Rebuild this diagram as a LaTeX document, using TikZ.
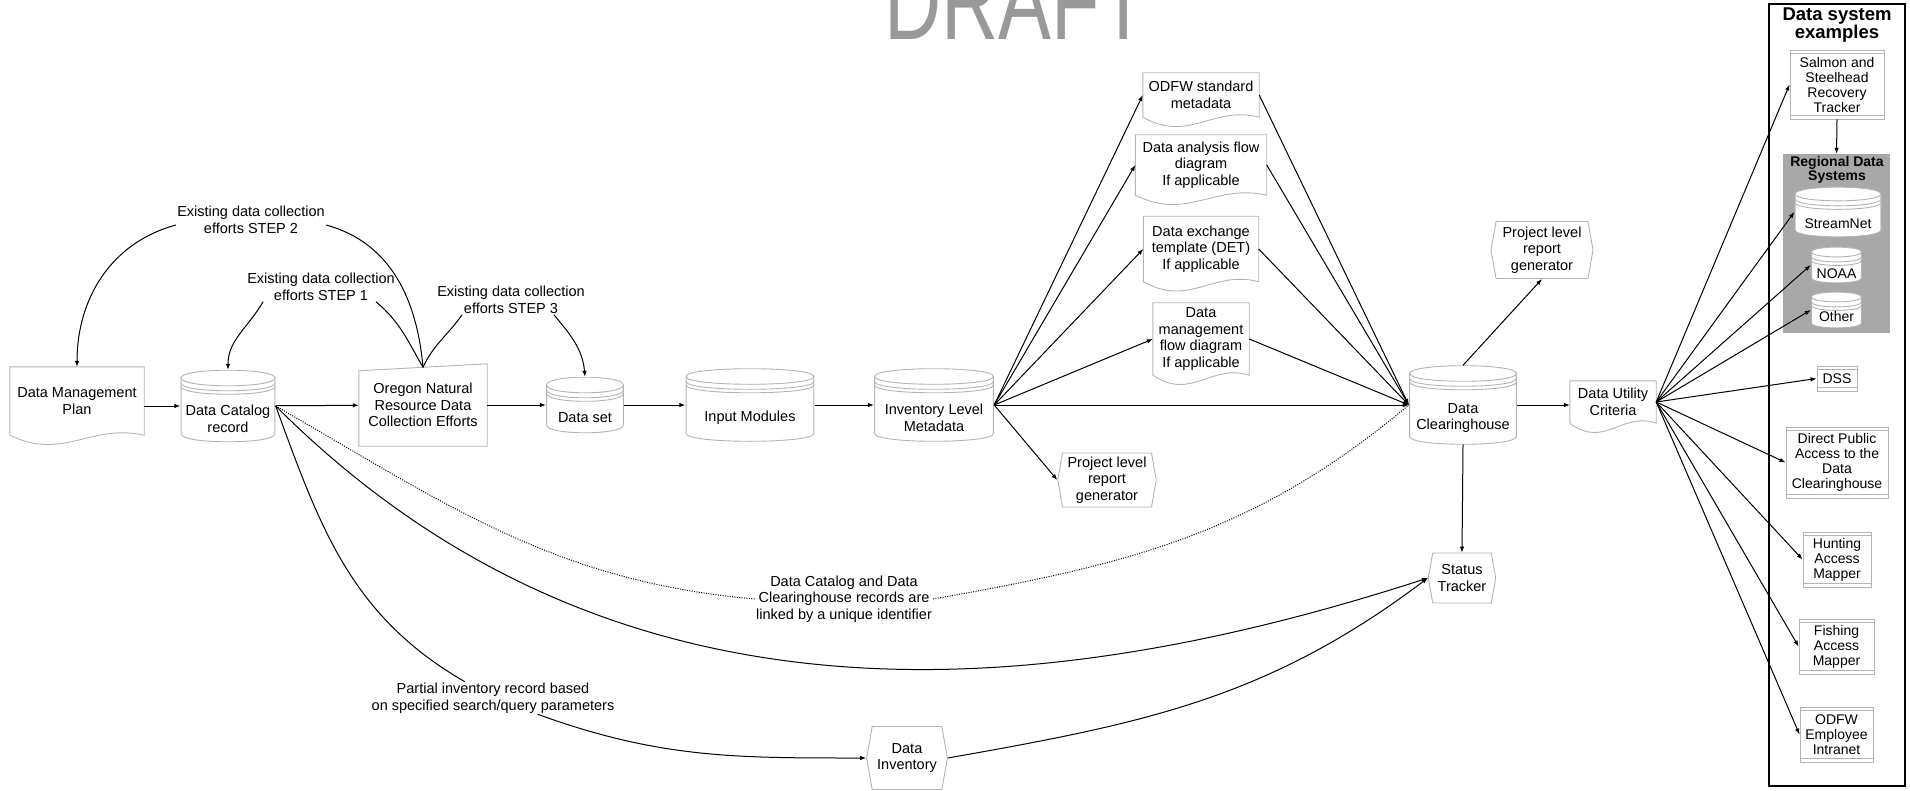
\documentclass[tikz,border=0pt]{standalone}
\usepackage{fontspec}
\setmainfont{Liberation Sans}
\usepackage{tikz}
\usetikzlibrary{arrows.meta, positioning, calc, shapes.symbols}

\definecolor{shapegray}{RGB}{180,180,180}
\definecolor{panelgray}{RGB}{168,168,168}
\definecolor{draftgray}{RGB}{153,153,153}

\newcommand{\panelfont}{\fontsize{14}{15}\selectfont}
\newcommand{\capgap}[1][36]{\rule{0pt}{#1pt}}

% cylinder with a few rings under the lid
\newcommand{\storeoutline}[1]{%
  \coordinate (lid-w) at ([xshift=.6pt,yshift=-#1pt]path picture bounding box.north west);
  \coordinate (lid-e) at ([xshift=-.6pt,yshift=-#1pt]path picture bounding box.north east);
  \coordinate (base-w) at ([xshift=.6pt,yshift=#1pt]path picture bounding box.south west);
  \coordinate (base-e) at ([xshift=-.6pt,yshift=#1pt]path picture bounding box.south east);
  \filldraw[draw=shapegray, fill=white, line width=.9pt]
    (lid-w) .. controls +(0pt,1.3*#1pt) and +(0pt,1.3*#1pt) .. (lid-e)
    -- (base-e) .. controls +(0pt,-1.3*#1pt) and +(0pt,-1.3*#1pt) .. (base-w) -- cycle;
  \draw[shapegray, line width=.9pt] (lid-w) .. controls +(0pt,-1.3*#1pt) and +(0pt,-1.3*#1pt) .. (lid-e);
  \foreach \ring in {5pt,8.5pt}
    \draw[shapegray, line width=.9pt] ([yshift=-\ring]lid-w) .. controls +(0pt,-1.3*#1pt) and +(0pt,-1.3*#1pt) .. ([yshift=-\ring]lid-e);
}

% two rules inside the top and bottom edge
\newcommand{\ruledoutline}{%
  \draw[shapegray, line width=.9pt]
    ([yshift=-3.5pt]path picture bounding box.north west) -- ([yshift=-3.5pt]path picture bounding box.north east)
    ([yshift=3.5pt]path picture bounding box.south west) -- ([yshift=3.5pt]path picture bounding box.south east);
}

\tikzset{
  store/.style={
    rectangle, inner sep=1pt, align=center,
    path picture={\storeoutline{#1}}
  },
  store/.default=8,
  sheet/.style={
    rectangle, fill=white, inner sep=2pt, align=center
  },
  manual/.style={
    rectangle, fill=white, inner sep=2pt, align=center
  },
  display/.style={
    signal, signal to=east and west, signal pointer angle=160,
    draw=shapegray, line width=.9pt, fill=white, inner xsep=5pt, inner ysep=2pt, align=center
  },
  ruled/.style={
    rectangle, draw=shapegray, line width=.9pt, fill=white, inner sep=2pt, align=center,
    font=\panelfont, path picture={\ruledoutline}
  },
  note/.style={
    inner sep=1pt, align=center
  }
}

\begin{document}
\begin{tikzpicture}[
  x=1pt, y=-1pt,
  font=\fontsize{14.5}{16.5}\selectfont,
  arrow/.style={-{Latex[length=6pt, width=4.5pt]}, line width=1pt},
  plain/.style={line width=1pt},
  link/.style={line width=1pt, dash pattern=on 1pt off 1.4pt},
  sheetline/.style={draw=shapegray, line width=.9pt}
]
\useasboundingbox (0,0) rectangle (1910,791);

% watermark
\node[font=\fontsize{110}{110}\selectfont, text=draftgray, xscale=.72, anchor=base, inner sep=0pt] (draft) at (1016,40) {DRAFT};

% main row
\node[sheet, minimum width=134pt, minimum height=68pt] (plan) at (77,401) {Data Management\\Plan};
\node[store, minimum width=95pt, minimum height=72pt] (catalog) at (228,406) {\capgap Data Catalog\\record};
\node[manual, minimum width=128pt, minimum height=82pt] (oregon) at (423,405) {Oregon Natural\\Resource Data\\Collection Efforts};
\node[store, minimum width=78pt, minimum height=56pt] (dataset) at (585,405) {\capgap Data set};
\node[store, minimum width=129pt, minimum height=73pt] (modules) at (750,405) {\capgap Input Modules};
\node[store, minimum width=120pt, minimum height=73pt] (inventory) at (934,405) {\capgap Inventory Level\\Metadata};

% products of the inventory metadata
\node[sheet, minimum width=116pt, minimum height=44pt] (standard) at (1201,95) {ODFW standard\\metadata};
\node[sheet, minimum width=131pt, minimum height=60pt] (analysis) at (1201,165) {Data analysis flow\\diagram\\If applicable};
\node[sheet, minimum width=115pt, minimum height=65pt] (exchange) at (1201,249) {Data exchange\\template (DET)\\If applicable};
\node[sheet, minimum width=96pt, minimum height=72pt] (mgmtflow) at (1201,339) {Data\\management\\flow diagram\\If applicable};
\node[display, minimum width=96pt, minimum height=54pt] (localreport) at (1107,480) {Project level\\report\\generator};

% clearinghouse and its outputs
\node[store, minimum width=108pt, minimum height=79pt] (clearing) at (1463,405) {\capgap Data\\Clearinghouse};
\node[display, minimum width=102pt, minimum height=57pt] (report) at (1542,250) {Project level\\report\\generator};
\node[display, minimum width=62pt, minimum height=50pt] (status) at (1462,578) {Status\\Tracker};
\node[sheet, minimum width=86pt, minimum height=42pt] (utility) at (1613,402) {Data Utility\\Criteria};
\node[display, minimum width=80pt, minimum height=63pt] (datainv) at (907,758) {Data\\Inventory};

% edge labels
\node[note] (step2) at (251,220) {Existing data collection\\efforts STEP 2};
\node[note] (step1) at (321,287) {Existing data collection\\efforts STEP 1};
\node[note] (step3) at (511,300) {Existing data collection\\efforts STEP 3};
\node[note] (linked) at (844,599) {Data Catalog and Data\\Clearinghouse records are\\linked by a unique identifier};
\node[note] (partial) at (493,698) {Partial inventory record based\\on specified search/query parameters};

% data system examples
\node[draw, line width=1.4pt, minimum width=136pt, minimum height=782pt] (examples) at (1837,395) {};
\node[font=\fontsize{18.5}{17}\selectfont\bfseries, align=center, inner sep=0pt] (examplestitle) at (1837,25) {Data system\\examples};
\node[ruled, minimum width=94pt, minimum height=69pt] (salmon) at (1837,84.5) {Salmon and\\Steelhead\\Recovery\\Tracker};
\node[fill=panelgray, minimum width=107pt, minimum height=179pt] (regional) at (1836.5,243.5) {};
\node[font=\fontsize{14}{14}\selectfont\bfseries, align=center, inner sep=0pt] (regionaltitle) at (1837,170) {Regional Data\\Systems};
\node[store=7, minimum width=87pt, minimum height=50pt, font=\panelfont] (streamnet) at (1838,212) {\capgap[34]StreamNet};
\node[store=5, minimum width=51pt, minimum height=36pt, font=\panelfont] (noaa) at (1836.5,265) {\capgap[27]NOAA};
\node[store=5, minimum width=51pt, minimum height=36pt, font=\panelfont] (other) at (1836.5,310) {\capgap[23]Other};
\node[ruled, minimum width=40pt, minimum height=25pt] (dss) at (1837,378.5) {DSS};
\node[ruled, minimum width=102pt, minimum height=71pt] (public) at (1837,462.5) {Direct Public\\Access to the\\Data\\Clearinghouse};
\node[ruled, minimum width=68pt, minimum height=55pt] (hunting) at (1837,559.5) {Hunting\\Access\\Mapper};
\node[ruled, minimum width=75pt, minimum height=55pt] (fishing) at (1836.5,646.5) {Fishing\\Access\\Mapper};
\node[ruled, minimum width=73pt, minimum height=55pt] (intranet) at (1836.5,734.5) {ODFW\\Employee\\Intranet};

% page outlines with the wavy foot
\foreach \sheet in {plan,standard,analysis,exchange,mgmtflow,utility}
  \draw[sheetline] (\sheet.south west) -- (\sheet.north west) -- (\sheet.north east) -- (\sheet.south east)
    .. controls ($(\sheet.south east)!.4!(\sheet.south west)+(0pt,12pt)$) and ($(\sheet.south west)!.4!(\sheet.south east)+(0pt,-26pt)$) .. (\sheet.south west);
\draw[sheetline] (oregon.south west) -- ([yshift=-7pt]oregon.north west) -- (oregon.north east) -- (oregon.south east) -- cycle;

% main row
\draw[arrow] (plan.east |- catalog.west) -- (catalog.west);
\draw[arrow] (catalog) -- (oregon);
\draw[arrow] (oregon) -- (dataset);
\draw[arrow] (dataset) -- (modules);
\draw[arrow] (modules) -- (inventory);

% existing data collection loops
\draw[plain] ([yshift=-3.5pt]oregon.north) to[out=95, in=-15] ([yshift=-5pt]step2.east);
\draw[arrow] ([yshift=-5pt]step2.west) to[out=195, in=90] (plan.north);
\draw[plain] ([yshift=-3.5pt]oregon.north) to[out=120, in=-40] ([xshift=-20pt]step1.south east);
\draw[arrow] ([xshift=17pt]step1.south west) to[out=-120, in=90] (catalog.north);
\draw[plain] ([yshift=-3.5pt]oregon.north) to[out=65, in=-125] ([xshift=26pt]step3.south west);
\draw[arrow] ([xshift=-32pt]step3.south east) to[out=-50, in=95] (dataset.north);

% inventory fan
\foreach \src in {standard,analysis,exchange,mgmtflow}
  \draw[arrow] (inventory.east) -- (\src.west);
\draw[arrow] (inventory.east) -- (clearing.west);
\draw[arrow] (inventory.east) -- (localreport.west);
\foreach \src in {standard,analysis,exchange,mgmtflow}
  \draw[arrow] (\src.east) -- (clearing.west);

% clearinghouse
\draw[arrow] (clearing.north) -- (report.south);
\draw[arrow] (clearing.east) -- (clearing.east -| utility.west);
\draw[arrow] (clearing.south) -- (status.north);

% utility fan
\foreach \target in {salmon,streamnet,noaa,other,dss,public,hunting,fishing,intranet}
  \draw[arrow] (utility.east) -- (\target.west);
\draw[arrow] (salmon.south) -- (regional.north);

% catalog links along the bottom
\draw[link] (catalog.east) .. controls +(-30:200pt) and +(175:200pt) .. (linked.west);
\draw[link] (linked.east) .. controls +(10:200pt) and +(-140:200pt) .. (clearing.west);
\draw[arrow] (catalog.east) .. controls +(-45:450pt) and +(198:450pt) .. (status.west);
\draw[plain] (catalog.east) to[out=-70, in=150] (partial);
\draw[arrow] (partial) to[out=-20, in=180] (datainv.west);
\draw[arrow] (datainv.east) .. controls +(10:200pt) and +(-143:200pt) .. (status.west);

\end{tikzpicture}
\end{document}
